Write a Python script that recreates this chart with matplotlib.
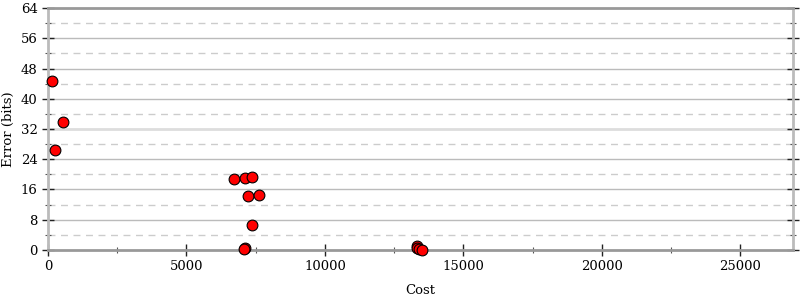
import matplotlib
matplotlib.use("Agg")
import matplotlib.pyplot as plt
from matplotlib.ticker import MultipleLocator

plt.rcParams['font.family'] = ['DejaVu Serif']

# data
cost = [155, 263, 551, 6700, 7110, 7370, 7240, 7620, 7370, 7130, 7080,
        13330, 13310, 13410, 13520]
error = [44.6, 26.5, 33.9, 18.7, 19.1, 19.2, 14.4, 14.6, 6.6, 0.5, 0.3,
         1.0, 0.4, 0.2, 0.1]

x_max = 26900
y_max = 64

fig = plt.figure(figsize=(8, 3), dpi=100)
ax = fig.add_axes([0.06, 0.1667, 0.931, 0.8066])

ax.set_xlim(0, x_max)
ax.set_ylim(0, y_max)

ax.xaxis.set_major_locator(MultipleLocator(5000))
ax.xaxis.set_minor_locator(MultipleLocator(2500))
ax.yaxis.set_major_locator(MultipleLocator(8))
ax.yaxis.set_minor_locator(MultipleLocator(4))

# grid lines
for yv in range(8, 64, 8):
    if yv == 32:
        ax.axhline(yv, color='#dddddd', lw=2, zorder=1)
    else:
        ax.axhline(yv, color='#bbbbbb', lw=1, zorder=1)
for yv in range(4, 64, 8):
    ax.axhline(yv, color='#cccccc', lw=1, ls=(0, (5, 4)), zorder=1)

ax.scatter(cost, error, s=60, c='#ff0000', edgecolors='black', linewidths=0.8,
           zorder=3, clip_on=False)

for side in ['top', 'bottom']:
    ax.spines[side].set_color('#999999')
    ax.spines[side].set_linewidth(2)
for side in ['left', 'right']:
    ax.spines[side].set_color('#bbbbbb')
    ax.spines[side].set_linewidth(2)

ax.tick_params(axis='both', which='major', direction='inout', length=8,
               width=1, color='#222222', labelsize=9.5)
ax.tick_params(axis='both', which='minor', direction='inout', length=4,
               width=0.8, color='#555555')
ax.tick_params(axis='y', which='both', right=True)
ax.tick_params(axis='x', which='major', pad=3)

ax.set_xlabel('Cost', fontsize=9.5, labelpad=8)
ax.set_ylabel('Error (bits)', fontsize=9.5, labelpad=4)

fig.savefig('out.png', dpi=100)
